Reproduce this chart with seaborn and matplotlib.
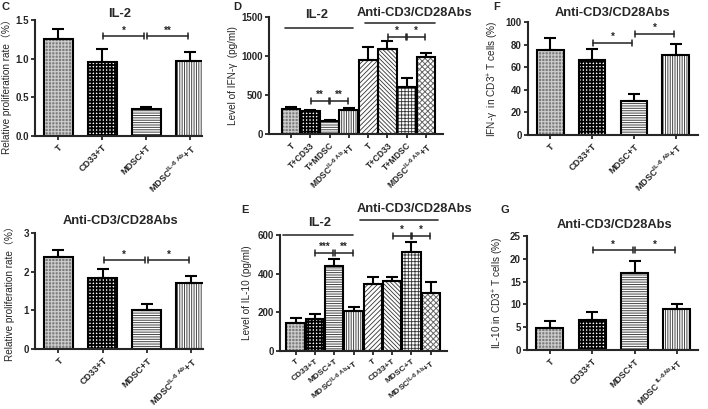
import numpy as np
import pandas as pd
import matplotlib
matplotlib.use('Agg')
import matplotlib.pyplot as plt
import seaborn as sns

sns.set_style('ticks')
plt.rcParams['font.family'] = ['Liberation Sans', 'Noto Sans CJK SC', 'DejaVu Sans']
plt.rcParams['mathtext.fontset'] = 'custom'
plt.rcParams['mathtext.rm'] = 'Liberation Sans'
plt.rcParams['mathtext.it'] = 'Liberation Sans:italic'
plt.rcParams['mathtext.bf'] = 'Liberation Sans:bold'
plt.rcParams['hatch.linewidth'] = 0.7

# ------------------------------------------------------------------ data
IL6 = r'MDSC$^{\mathbf{IL‐6\ Ab}}$+T'
c_labels = ['T', 'CD33+T', 'MDSC+T', IL6]
c_il2_vals = [1.26, 0.96, 0.35, 0.97]
c_il2_err = [0.12, 0.16, 0.03, 0.11]
c_il2_sig = [(1, 2, 1.29, '*'), (2, 3, 1.29, '**')]
c_anti_vals = [2.37, 1.84, 1.01, 1.70]
c_anti_err = [0.18, 0.23, 0.16, 0.19]
c_anti_sig = [(1, 2, 2.29, '*'), (2, 3, 2.29, '*')]

d_labels = ['T', 'T+CD33', 'T+MDSC', IL6, 'T', 'T+CD33', 'T+MDSC', IL6]
d_vals = [325, 295, 171, 310, 953, 1088, 600, 988]
d_err = [20, 18, 14, 18, 167, 110, 122, 55]
d_sig = [(1, 2, 427, '**'), (2, 3, 427, '**'), (5, 6, 1249, '*'), (6, 7, 1249, '*')]

e_labels = ['T', 'CD33+T', 'MDSC+T', IL6, 'T', 'CD33+T', 'MDSC+T', IL6]
e_vals = [146, 167, 440, 208, 347, 360, 512, 298]
e_err = [23, 24, 34, 21, 34, 24, 50, 59]
e_sig = [(1, 2, 508, '***'), (2, 3, 508, '**'), (5, 6, 595, '*'), (6, 7, 595, '*')]

f_labels = c_labels
f_vals = [75.0, 66.8, 30.3, 70.9]
f_err = [11.0, 9.4, 6.2, 9.4]
f_sig = [(1, 2, 81.5, '*'), (2, 3, 89.7, '*')]

g_labels = ['T', 'CD33+T', 'MDSC+T', r'MDSC $^{\mathbf{IL‐6Ab}}$+T']
g_vals = [4.8, 6.6, 16.9, 9.0]
g_err = [1.5, 1.8, 2.6, 1.0]
g_sig = [(1, 2, 21.9, '*'), (2, 3, 21.9, '*')]

# ------------------------------------------------------------------ styles
STY = {
    'gray':  ('#7c7c7c', '+++++', '#cdcdcd', 0.8),
    'check': ('white', '+++++', 'black', 1.3),
    'hline': ('white', '-------', '#444444', 0.7),
    'vline': ('white', '|||||||', '#444444', 0.7),
    'diag':  ('white', '///////', '#333333', 0.6),
    'bdiag': ('white', '\\\\\\\\\\\\\\\\', '#333333', 0.6),
    'grid':  ('white', '+++++', '#333333', 0.6),
    'dots':  ('white', 'xxxxxx', '#666666', 0.7),
}
four = ['gray', 'check', 'hline', 'vline']
eight = four + ['diag', 'bdiag', 'grid', 'dots']

W, H = 708, 409
fig = plt.figure(figsize=(W / 100, H / 100), dpi=100)


def add_ax(l, r, t, b):
    return fig.add_axes([l / W, 1 - b / H, (r - l) / W, (b - t) / H])


def ftext(x, y, s, **kw):
    fig.text(x / W, 1 - y / H, s, ha='center', va='center', **kw)


def panel(ax, labels, vals, errs, styles, width, xlim, ylim, yticks, yfmt,
          ylabel, ylab_x, sigs, xfs=6.6, rot=45, ylab_y=0.5):
    n = len(vals)
    df = pd.DataFrame({'x': np.arange(n), 'y': vals})
    sns.barplot(data=df, x='x', y='y', ax=ax, width=width, color='white',
                errorbar=None, saturation=1, linewidth=0)
    for p, s in zip(ax.patches, styles):
        fc, h, hc, hlw = STY[s]
        p.set_facecolor(fc)
        p.set_hatch(h)
        p.set_edgecolor(hc)
        p.set_linewidth(0)
        if hasattr(p, 'set_hatch_linewidth'):
            p.set_hatch_linewidth(hlw)
    sns.barplot(data=df, x='x', y='y', ax=ax, width=width, color='black',
                fill=False, errorbar=None, linewidth=1.5)
    ax.errorbar(np.arange(n), vals, yerr=[np.zeros(n), errs], fmt='none',
                ecolor='black', elinewidth=1.5, capsize=4, capthick=1.5,
                zorder=1, clip_on=False)
    ax.set_xlim(*xlim)
    ax.set_ylim(*ylim)
    ax.set_yticks(yticks)
    ax.set_yticklabels([yfmt.format(v) for v in yticks], fontweight='bold')
    ax.set_xticks(np.arange(n))
    ax.set_xticklabels(labels, rotation=rot, ha='right', rotation_mode='anchor',
                       fontweight='bold', fontsize=xfs)
    ax.tick_params(axis='both', direction='out', length=3, width=1.3,
                   labelsize=7, pad=1.5)
    ax.tick_params(axis='x', pad=2, labelsize=xfs)
    ax.set_xlabel('')
    ax.set_ylabel(ylabel, fontsize=7.2)
    ax.yaxis.set_label_coords(ylab_x, ylab_y)
    sns.despine(ax=ax)
    for sp in ('left', 'bottom'):
        ax.spines[sp].set_linewidth(1.5)
    # significance brackets
    bb = ax.get_position()
    hpx = bb.height * H
    cap = 3.0 * (ylim[1] - ylim[0]) / hpx
    for (a, b, y, s) in sigs:
        x1, x2 = a + 0.02, b - 0.04
        kw = dict(color='#222222', lw=1.1, clip_on=False)
        ax.plot([x1, x2], [y, y], **kw)
        ax.plot([x1, x1], [y - cap, y + cap], **kw)
        ax.plot([x2, x2], [y - cap, y + cap], **kw)
        ax.annotate(s, xy=((x1 + x2) / 2, y), xytext=(0, 0.5),
                    textcoords='offset points', ha='center', va='bottom',
                    fontsize=7, fontweight='bold')


tkw = dict(fontsize=9.3, fontweight='bold')
ylab_c = 'Relative proliferation rate（%）'

# C top
ax = add_ax(35, 202, 20, 136)
panel(ax, c_labels, c_il2_vals, c_il2_err, four, 0.66, (-0.53, 3.27),
      (0, 1.5), [0, 0.5, 1.0, 1.5], '{:.1f}', ylab_c, -0.14, c_il2_sig,
      ylab_y=0.45)
ftext(120, 14, 'IL-2', **tkw)

# C bottom
ax = add_ax(35, 203, 233, 349)
panel(ax, c_labels, c_anti_vals, c_anti_err, four, 0.66, (-0.53, 3.27),
      (0, 3), [0, 1, 2, 3], '{:d}', ylab_c, -0.12, c_anti_sig)
ftext(120, 221, 'Anti-CD3/CD28Abs', **tkw)

# D
ax = add_ax(269, 443, 17, 134)
panel(ax, d_labels, d_vals, d_err, eight, 0.98, (-1.14, 7.88),
      (0, 1500), [0, 500, 1000, 1500], '{:d}', 'Level of IFN-γ  (pg/ml)',
      -0.18, d_sig, xfs=6.2)
ax.plot([-0.31, 3.21], [1359, 1359], color='#333333', lw=1.2, clip_on=False)
ax.plot([3.83, 7.46], [1423, 1423], color='#333333', lw=1.2, clip_on=False)
ftext(317, 15, 'IL-2', **tkw)
ftext(414, 13, 'Anti-CD3/CD28Abs', **tkw)

# E
ax = add_ax(280, 447, 235, 351)
panel(ax, e_labels, e_vals, e_err, eight, 0.95, (-0.81, 7.84),
      (0, 600), [0, 200, 400, 600], '{:d}', 'Level of IL-10 (pg/ml)',
      -0.17, e_sig, xfs=6.0, rot=38)
ax.plot([-0.66, 2.97], [600, 600], color='#333333', lw=1.2, clip_on=False)
ax.plot([3.33, 7.37], [678, 678], color='#333333', lw=1.2, clip_on=False)
ftext(320, 223, 'IL-2', **tkw)
ftext(414, 209, 'Anti-CD3/CD28Abs', **tkw)

# F
ax = add_ax(528, 698, 22, 135)
panel(ax, f_labels, f_vals, f_err, four, 0.64, (-0.53, 3.53),
      (0, 100), [0, 20, 40, 60, 80, 100], '{:d}',
      r'IFN-γ  in CD3$^{+}$ T cells (%)', -0.16, f_sig)
ftext(612, 13, 'Anti-CD3/CD28Abs', **tkw)

# G
ax = add_ax(527, 698, 236, 350)
panel(ax, g_labels, g_vals, g_err, four, 0.64, (-0.54, 3.5),
      (0, 25), [0, 5, 10, 15, 20, 25], '{:d}',
      r'IL-10 in CD3$^{+}$ T cells (%)', -0.12, g_sig, xfs=6.3)
ftext(614, 225, 'Anti-CD3/CD28Abs', **tkw)

# panel letters
lkw = dict(fontsize=8, fontweight='bold')
ftext(6, 7, 'C', **lkw)
ftext(237, 7, 'D', **lkw)
ftext(245, 210, 'E', **lkw)
ftext(497, 7, 'F', **lkw)
ftext(505, 210, 'G', **lkw)

fig.savefig('out.png', dpi=100, facecolor='white')
